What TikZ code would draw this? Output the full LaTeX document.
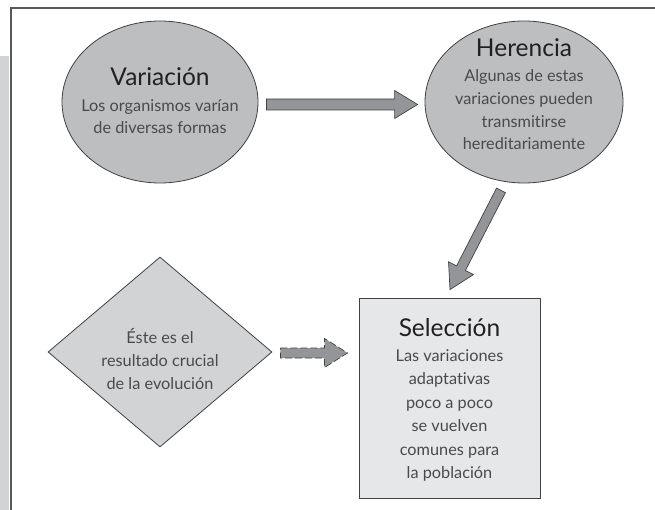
\documentclass[tikz,border=0pt]{standalone}
\usepackage{fontspec}
\setmainfont{Lato}[Ligatures={NoCommon,NoContextual}]
\usetikzlibrary{shapes.geometric,calc}
\definecolor{ellfill}{HTML}{BCBEC0}
\definecolor{arrfill}{HTML}{939598}
\definecolor{diafill}{HTML}{D1D3D4}
\definecolor{recfill}{HTML}{E6E7E8}
\definecolor{edge}{HTML}{414042}
\definecolor{frameline}{HTML}{58595B}
\definecolor{titlecol}{HTML}{231F20}
\definecolor{bodycol}{HTML}{4A4A4C}
\newcommand\titlefont{\fontsize{24.5}{26}\selectfont\color{titlecol}}
\newcommand\bodyfont{\fontsize{16.3}{22.7}\selectfont}
\newcommand\bodyfontwide{\fontsize{16.3}{23.5}\selectfont}
% #1 start, #2 tip, #3 shaft half width, #4 head half width, #5 head length, #6 style
\newcommand\blockarrow[6]{%
  \path[#6] ($(#1)!#3!90:(#2)$)
    -- ($($(#2)!#5!(#1)$)!#3!90:(#2)$)
    -- ($($(#2)!#5!(#1)$)!#4!90:(#2)$)
    -- (#2)
    -- ($($(#2)!#5!(#1)$)!#4!-90:(#2)$)
    -- ($($(#2)!#5!(#1)$)!#3!-90:(#2)$)
    -- ($(#1)!#3!-90:(#2)$) -- cycle;}
\begin{document}
\begin{tikzpicture}[x=1pt,y=-1pt,
  ell/.style={ellipse, draw=edge, line width=0.8pt, fill=ellfill, inner sep=0pt},
  txt/.style={align=center, inner sep=0pt, text=bodycol, font=\bodyfont},
  arrowstyle/.style={fill=arrfill, draw=edge, line width=0.7pt, line join=miter},
  dasharrow/.style={fill=arrfill, draw=edge, line width=0.7pt, dash pattern=on 7pt off 3pt}
]
\useasboundingbox (0,0) rectangle (655,510);
% frame
\fill[diafill] (0,56) rectangle (9,510);
\coordinate (fTL) at (10.5,8);
\coordinate (fTR) at (655,8);
\coordinate (fBL) at (10.5,510);
\draw[frameline, line width=2pt] (fBL) -- (fTL) -- (fTR);
% shapes
\node[ell, minimum width=196pt, minimum height=162pt] (var) at (160,102) {};
\node[ell, minimum width=198pt, minimum height=162pt] (her) at (524,102) {};
\node[diamond, draw=edge, line width=0.8pt, fill=diafill, inner sep=0pt,
      minimum width=224pt, minimum height=190pt] (dia) at (160,352) {};
\node[rectangle, draw=edge, line width=0.9pt, fill=recfill, inner sep=0pt,
      minimum width=181pt, minimum height=200pt] (sel) at (449.5,398) {};
% texts
\node[txt] (vart) at ($(var.center)+(0,-1)$) {{\titlefont Variación}\\[2.5pt]
  Los organismos varían\\ de diversas formas};
\node[txt] (hert) at ($(her.center)+(0,-7.5)$) {{\titlefont Herencia}\\[2.3pt]
  Algunas de estas\\ variaciones pueden\\ transmitirse\\ hereditariamente};
\node[txt] (diat) at ($(dia.center)+(0,7)$) {Éste es el\\ resultado crucial\\ de la evolución};
\node[txt, font=\bodyfontwide] (selt) at ($(sel.center)+(0,2)$) {{\titlefont Selección}\\[1.5pt]
  Las variaciones\\ adaptativas\\ poco a poco\\ se vuelven\\ comunes para\\ la población};
% connectors
\coordinate (a1s) at ($(var.east)+(8,2.5)$);
\coordinate (a1e) at ($(her.west)+(-7,2.5)$);
\blockarrow{a1s}{a1e}{5.5pt}{14pt}{23pt}{arrowstyle}
\coordinate (a2s) at ($(her.south)+(-23,7)$);
\coordinate (a2e) at ($(sel.north)+(0.5,-8)$);
\blockarrow{a2s}{a2e}{5pt}{14pt}{24pt}{arrowstyle}
\coordinate (a3s) at ($(dia.east)+(8,1)$);
\coordinate (a3e) at ($(sel.west)+(-11,-45)$);
\blockarrow{a3s}{a3e}{5pt}{14.5pt}{23pt}{dasharrow}
\end{tikzpicture}
\end{document}
